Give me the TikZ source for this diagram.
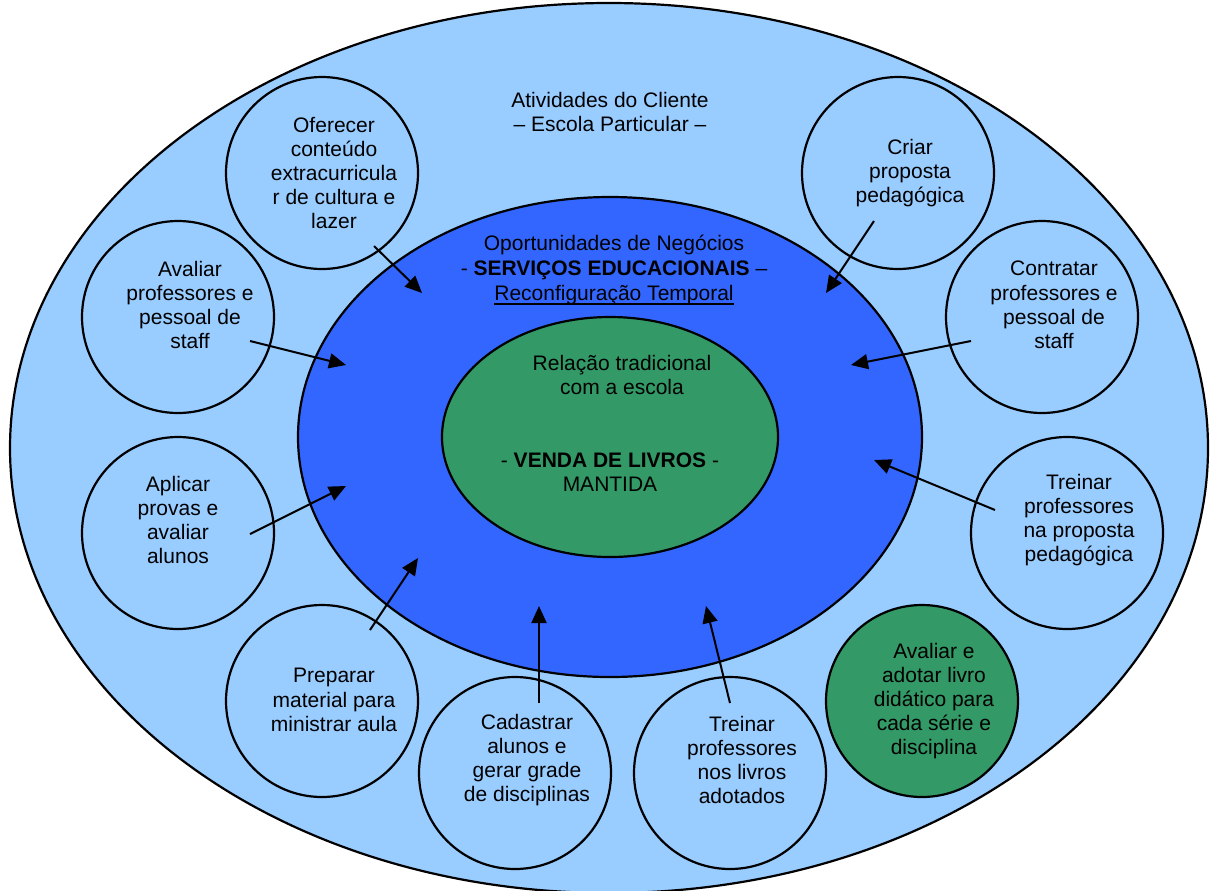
\documentclass[tikz,border=0pt]{standalone}
\usepackage{fontspec}
\setmainfont{Liberation Sans}
\usetikzlibrary{shapes.geometric,arrows.meta}

\definecolor{skyfill}{RGB}{153,204,255}
\definecolor{oppfill}{RGB}{51,102,255}
\definecolor{corefill}{RGB}{51,153,102}

\newcommand\lineunder[1]{\setbox0\hbox{#1}\rlap{\rule[-2pt]{\wd0}{0.9pt}}\box0}

\tikzset{
  zone/.style={draw,ellipse,line width=1.1pt,inner sep=0pt},
  act/.style={draw,circle,line width=1.1pt,fill=skyfill,minimum size=96pt,inner sep=0pt},
  txt/.style={align=center,inner sep=0pt,font=\fontsize{10.5pt}{12.1pt}\selectfont},
  flow/.style={-{Triangle[length=8.5pt,width=7.5pt]},line width=1pt}
}

\begin{document}
\begin{tikzpicture}[x=0.5pt,y=-0.5pt]
\useasboundingbox (0,0) rectangle (1210,890);

% the three rings
\node[zone,fill=skyfill,minimum width=599pt,minimum height=445pt] (outer) at (609,448) {};
\node[zone,fill=oppfill,minimum width=312pt,minimum height=240pt] (opp) at (610,437) {};
\node[zone,fill=corefill,minimum width=168pt,minimum height=120pt] (core) at (610,437) {};

\node[txt] (title) at (610,112) {Atividades do Cliente\\– Escola Particular –};
\node[txt,font=\fontsize{10.5pt}{12.5pt}\selectfont] (oppt) at (614,270) {Oportunidades de Negócios\\- \textbf{SERVIÇOS EDUCACIONAIS} –\\\lineunder{Reconfiguração Temporal}};
\node[txt] (rel) at (622,375) {Relação tradicional\\com a escola};
\node[txt] (venda) at (610,472) {- \textbf{VENDA DE LIVROS} -\\MANTIDA};

% activities
\node[act] (C1) at (322,173) {};
\node[act] (C2) at (178,317) {};
\node[act] (C3) at (898,173) {};
\node[act] (C4) at (1042,317) {};
\node[act] (C5) at (178,533) {};
\node[act] (C6) at (1067,533) {};
\node[act] (C7) at (322,701) {};
\node[act,fill=corefill] (C8) at (922,701) {};
\node[act] (C9) at (515,773) {};
\node[act] (C10) at (730,773) {};

\node[txt] (T1) at (334,173) {Oferecer\\conteúdo\\extracurricula\\r de cultura e\\lazer};
\node[txt] (T2) at (190,305) {Avaliar\\professores e\\pessoal de\\staff};
\node[txt] (T3) at (910,173) {Criar\\proposta\\pedagógica};
\node[txt] (T4) at (1054,305) {Contratar\\professores e\\pessoal de\\staff};
\node[txt] (T5) at (178,520) {Aplicar\\provas e\\avaliar\\alunos};
\node[txt] (T6) at (1079,520) {Treinar\\professores\\na proposta\\pedagógica};
\node[txt] (T7) at (334,700) {Preparar\\material para\\ministrar aula};
\node[txt] (T8) at (934,701) {Avaliar e\\adotar livro\\didático para\\cada série e\\disciplina};
\node[txt] (T9) at (527,760) {Cadastrar\\alunos e\\gerar grade\\de disciplinas};
\node[txt] (T10) at (742,760) {Treinar\\professores\\nos livros\\adotados};

% arrows into the business ring
\foreach \n/\sx/\sy/\tx/\ty in {1/52/73/422/293, 2/72/24/346/365, 3/-24/48/826/293,
    4/-71/24/851/365, 5/72/1/346/486, 6/-72/-23/874/460, 7/48/-71/418/558,
    9/24/-70/539/606, 10/0/-70/706/606}
{
  \coordinate (P\n) at (\tx,\ty);
  \draw[flow] ([shift={(\sx,\sy)}]C\n.center) -- (P\n);
}
\end{tikzpicture}
\end{document}
